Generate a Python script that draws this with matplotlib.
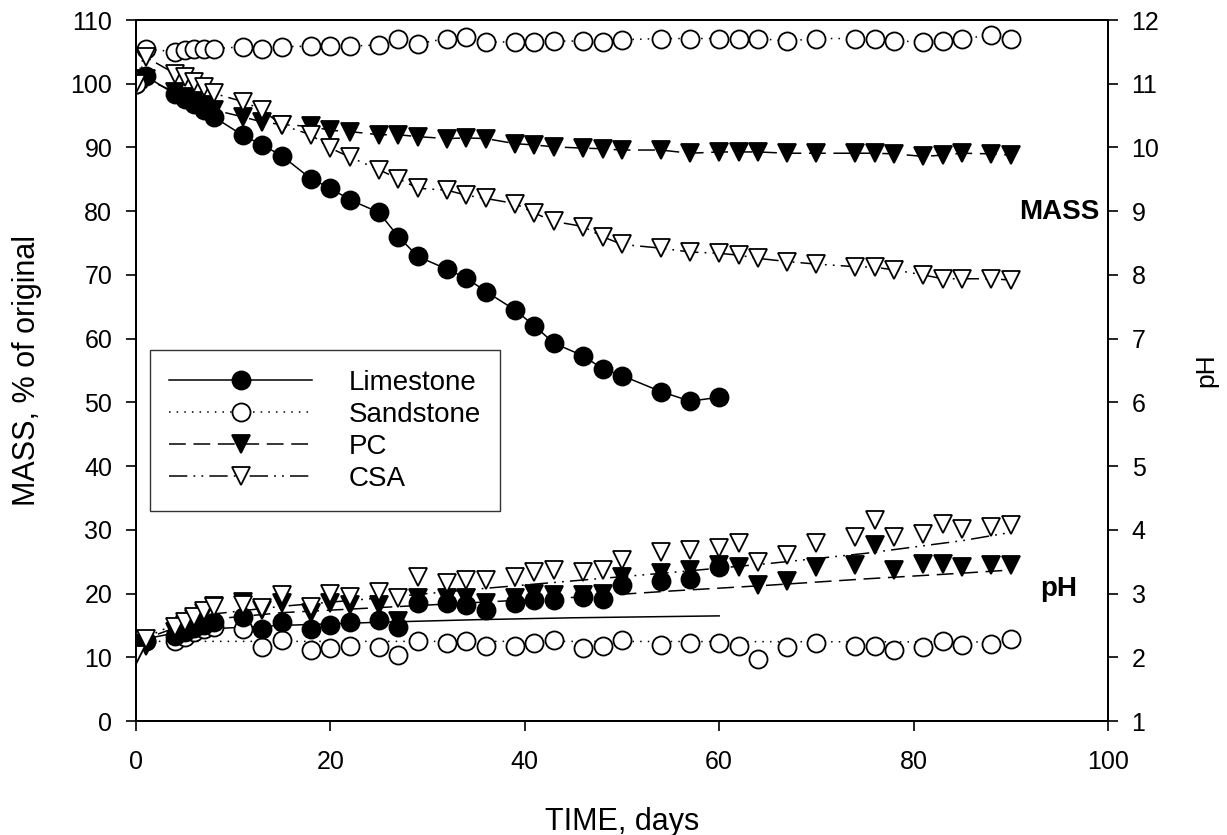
import numpy as np
import matplotlib.pyplot as plt

plt.rcParams['font.family'] = ['Liberation Sans', 'DejaVu Sans']

# sampling days
days = [0, 1, 4, 5, 6, 7, 8, 11, 13, 15, 18, 20, 22, 25, 27, 29, 32, 34, 36, 39,
        41, 43, 46, 48, 50, 54, 57, 60, 62, 64, 67, 70, 74, 76, 78, 81, 83, 85, 88, 90]
days_lime = days[:28]

# mass, % of original
mass_lime = [100, 101.2, 98.4, 97.6, 96.8, 95.9, 94.8, 91.9, 90.4, 88.7, 85.1, 83.6, 81.8, 79.8,
             76.0, 72.9, 70.9, 69.5, 67.4, 64.5, 62.0, 59.3, 57.3, 55.3, 54.2, 51.7, 50.2, 50.8]
mass_sand = [100, 105.5, 105.0, 105.3, 105.4, 105.4, 105.5, 105.8, 105.5, 105.8, 105.9, 105.9,
             105.9, 106.1, 107.1, 106.3, 107.1, 107.4, 106.5, 106.6, 106.6, 106.7, 106.7, 106.5,
             106.9, 107.1, 107.1, 107.1, 107.1, 107.1, 106.7, 107.1, 107.1, 107.1, 106.7, 106.6,
             106.7, 107.1, 107.6, 107.1]
mass_pc = [100, 100.8, 98.7, 98.0, 97.3, 96.6, 95.9, 94.8, 94.0, 93.6, 93.3, 92.7, 92.5, 92.0,
           92.0, 91.7, 91.4, 91.5, 91.4, 90.6, 90.4, 90.1, 89.9, 89.8, 89.6, 89.6, 89.1, 89.3,
           89.3, 89.3, 89.1, 89.1, 89.1, 89.1, 89.0, 88.6, 88.8, 89.1, 89.0, 88.8]
mass_csa = [100, 104.2, 101.6, 101.1, 100.3, 99.5, 98.5, 97.2, 95.9, 93.5, 92.0, 89.9, 88.5, 86.5,
            85.1, 83.6, 83.3, 82.5, 82.0, 81.2, 79.7, 78.4, 77.6, 76.0, 74.8, 74.2, 73.6, 73.4,
            73.1, 72.6, 72.1, 71.7, 71.3, 71.2, 70.8, 70.0, 69.4, 69.4, 69.4, 69.2]

# pH
ph_lime = [2.22, 2.25, 2.33, 2.40, 2.46, 2.50, 2.55, 2.63, 2.45, 2.56, 2.45, 2.51, 2.56, 2.59,
           2.48, 2.85, 2.85, 2.82, 2.74, 2.85, 2.90, 2.90, 2.94, 2.91, 3.14, 3.20, 3.23, 3.42]
ph_sand = [2.27, 2.25, 2.25, 2.32, 2.40, 2.45, 2.48, 2.45, 2.16, 2.27, 2.11, 2.14, 2.17, 2.16,
           2.04, 2.25, 2.23, 2.25, 2.17, 2.17, 2.23, 2.27, 2.14, 2.17, 2.27, 2.19, 2.22, 2.22,
           2.18, 1.97, 2.16, 2.23, 2.18, 2.18, 2.11, 2.16, 2.26, 2.19, 2.21, 2.28]
ph_pc = [2.15, 2.18, 2.40, 2.50, 2.60, 2.70, 2.80, 2.87, 2.74, 2.85, 2.69, 2.85, 2.82, 2.82,
         2.57, 2.93, 2.93, 2.93, 2.85, 2.93, 3.00, 2.98, 2.98, 3.00, 3.26, 3.32, 3.37, 3.45,
         3.42, 3.13, 3.19, 3.42, 3.45, 3.76, 3.37, 3.47, 3.47, 3.42, 3.45, 3.45]
ph_csa = [2.04, 2.28, 2.48, 2.56, 2.64, 2.72, 2.79, 2.82, 2.77, 2.98, 2.79, 3.00, 2.95, 3.03,
          2.93, 3.26, 3.16, 3.21, 3.22, 3.26, 3.34, 3.37, 3.34, 3.37, 3.53, 3.66, 3.68, 3.71,
          3.79, 3.50, 3.60, 3.79, 3.88, 4.16, 3.88, 3.93, 4.09, 4.01, 4.04, 4.08]

# fitted pH trend curves
fit_days_lime = [0, 2, 4, 8, 15, 25, 35, 45, 60]
fit_ph_lime = [2.22, 2.32, 2.38, 2.45, 2.50, 2.55, 2.59, 2.62, 2.65]
fit_days = [0, 2, 4, 8, 15, 25, 35, 45, 55, 65, 75, 85, 90]
fit_ph_pc = [2.20, 2.35, 2.46, 2.60, 2.70, 2.78, 2.86, 2.94, 3.04, 3.13, 3.23, 3.32, 3.37]
fit_ph_csa = [2.15, 2.38, 2.52, 2.68, 2.80, 2.93, 3.07, 3.20, 3.33, 3.47, 3.63, 3.83, 3.96]
fit_days_sand = [0, 45, 90]
fit_ph_sand = [2.25, 2.25, 2.24]

ls_lime = '-'
ls_sand = (0, (1, 4))
ls_pc = (0, (11, 5))
ls_csa = (0, (12, 4, 1.2, 4, 1.2, 4))
lw = 1.1

fig = plt.figure(figsize=(12.27, 8.35), dpi=100)
ax = fig.add_axes([0.1108, 0.1365, 0.7922, 0.8395])
ax2 = ax.twinx()

mk = dict(markersize=13, markeredgecolor='black', markeredgewidth=1.3)
h_pc, = ax.plot(days, mass_pc, linestyle=ls_pc, color='black', lw=lw, marker='v',
                markerfacecolor='black', label='PC', **mk)
h_lime, = ax.plot(days_lime, mass_lime, linestyle=ls_lime, color='black', lw=lw, marker='o',
                  markerfacecolor='black', label='Limestone', **mk)
h_sand, = ax.plot(days, mass_sand, linestyle=ls_sand, color='black', lw=lw, marker='o',
                  markerfacecolor='white', label='Sandstone', **mk)
h_csa, = ax.plot(days, mass_csa, linestyle=ls_csa, color='black', lw=lw, marker='v',
                 markerfacecolor='white', label='CSA', **mk)

# pH: markers plus trend curves
ax2.plot(fit_days_sand, fit_ph_sand, linestyle=ls_sand, color='black', lw=lw)
ax2.plot(fit_days_lime, fit_ph_lime, linestyle=ls_lime, color='black', lw=lw)
ax2.plot(fit_days, fit_ph_pc, linestyle=ls_pc, color='black', lw=lw)
ax2.plot(fit_days, fit_ph_csa, linestyle=ls_csa, color='black', lw=lw)
ax2.plot(days, ph_pc, linestyle='none', marker='v', markerfacecolor='black', **mk)
ax2.plot(days, ph_sand, linestyle='none', marker='o', markerfacecolor='white', **mk)
ax2.plot(days_lime, ph_lime, linestyle='none', marker='o', markerfacecolor='black', **mk)
ax2.plot(days, ph_csa, linestyle='none', marker='v', markerfacecolor='white', **mk)

ax.set_xlim(0, 100)
ax.set_ylim(0, 110)
ax2.set_ylim(1, 12)
ax.set_xticks(range(0, 101, 20))
ax.set_yticks(range(0, 111, 10))
ax2.set_yticks(range(1, 13))

for a in (ax, ax2):
    a.tick_params(direction='out', length=7, width=1.2, labelsize=18, colors='black', pad=10)
    for s in a.spines.values():
        s.set_linewidth(1.4)
ax.tick_params(axis='x', pad=14)

ax.set_xlabel('TIME, days', fontsize=22)
ax.set_ylabel('MASS, % of original', fontsize=22)
ax2.set_ylabel('pH', fontsize=19)
ax.xaxis.set_label_coords(0.5, -0.122)
ax.yaxis.set_label_coords(-0.097, 0.5)
ax2.yaxis.set_label_coords(1.089, 0.5)

ax.text(0.991, 0.726, 'MASS', transform=ax.transAxes, ha='right', va='center',
        fontsize=20, fontweight='bold')
ax.text(0.968, 0.188, 'pH', transform=ax.transAxes, ha='right', va='center',
        fontsize=20, fontweight='bold')

leg = ax2.legend([h_lime, h_sand, h_pc, h_csa], ['Limestone', 'Sandstone', 'PC', 'CSA'],
                 loc='upper left', bbox_to_anchor=(0.0144, 0.529), fontsize=20,
                 handlelength=5.15, numpoints=1, frameon=True, fancybox=False,
                 borderpad=0.7, labelspacing=0.22, handletextpad=1.3, borderaxespad=0)
leg.get_frame().set_edgecolor('black')
leg.get_frame().set_linewidth(1.0)

fig.savefig('out.png', dpi=100)
